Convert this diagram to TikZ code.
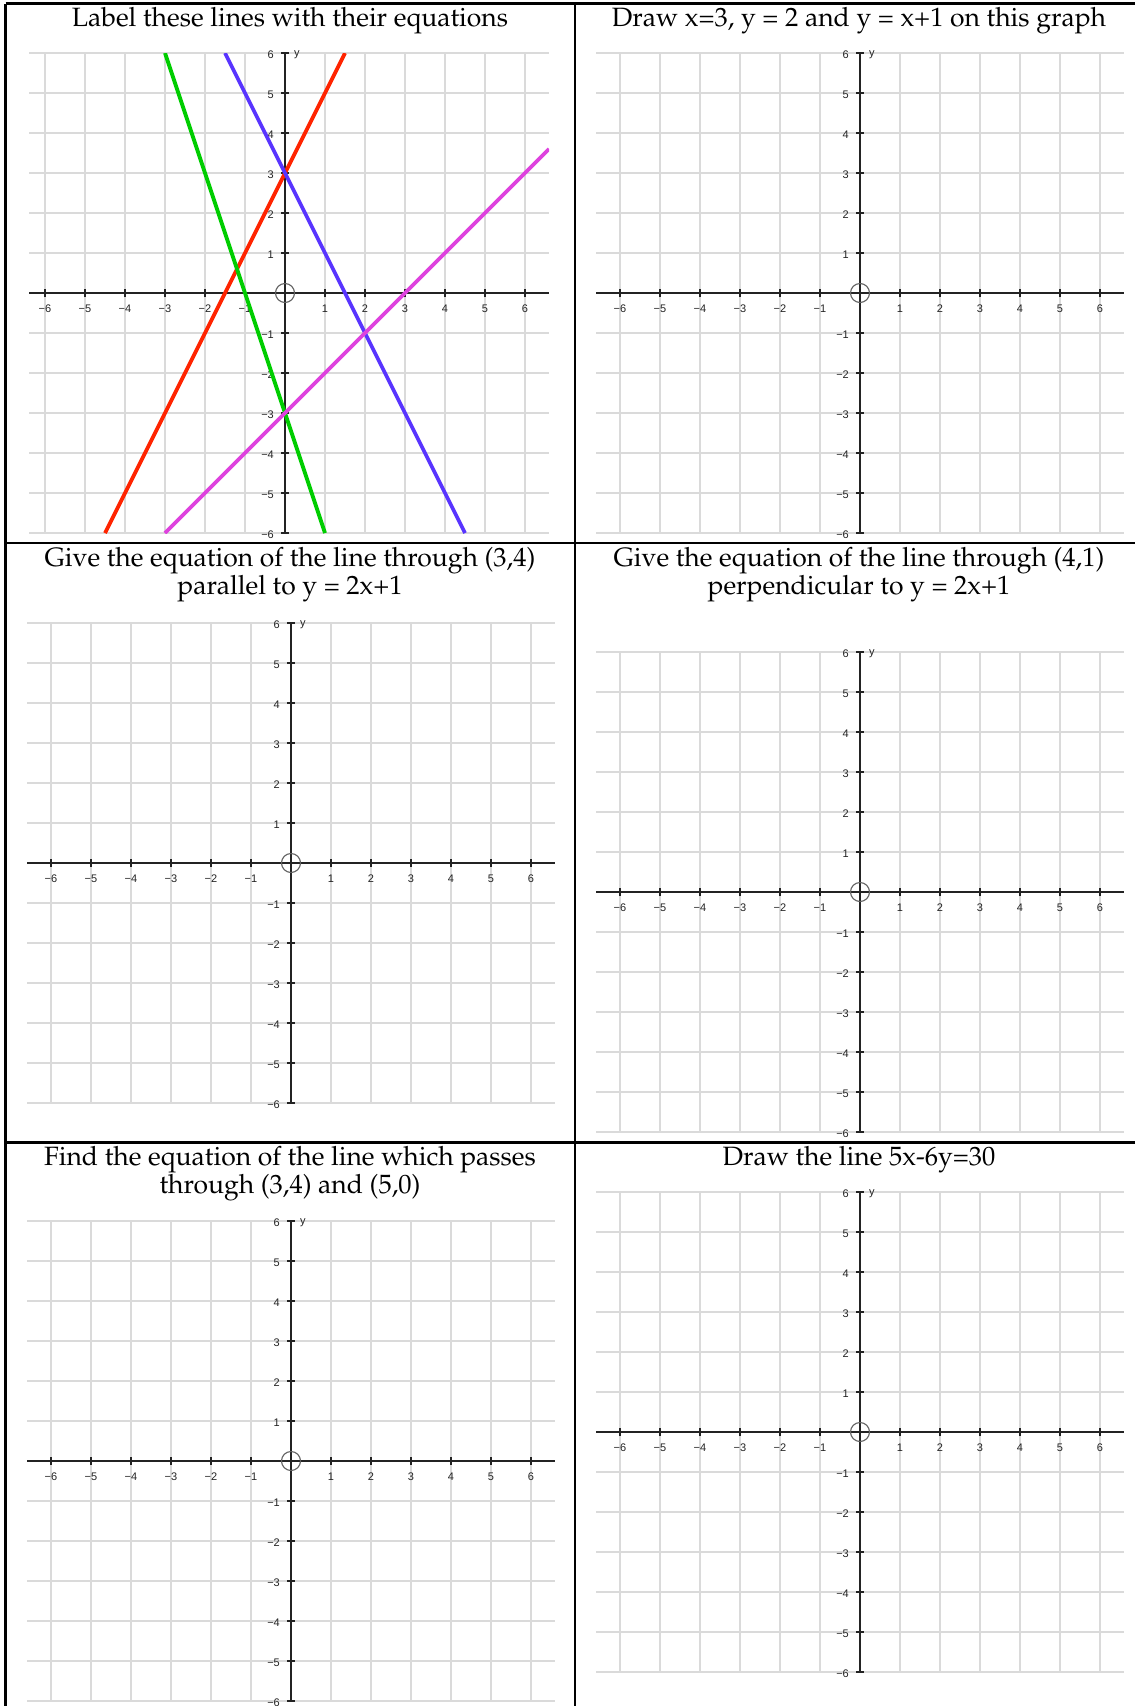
\documentclass[tikz,border=0pt]{standalone}
\usepackage[T1]{fontenc}
\usepackage{fontspec}
\newfontfamily\tickfont{Liberation Sans}
\definecolor{gridgray}{RGB}{218,218,218}
\definecolor{axisblack}{RGB}{35,35,35}
\definecolor{circgray}{RGB}{95,95,95}
\definecolor{linered}{RGB}{255,36,0}
\definecolor{lineblue}{RGB}{88,52,255}
\definecolor{linegreen}{RGB}{0,205,0}
\definecolor{linemagenta}{RGB}{222,66,222}

\newcommand{\titlefont}{\fontencoding{T1}\fontfamily{ppl}\fontsize{26.5}{29}\selectfont}
\newcommand{\ticksize}{\tickfont\fontsize{11}{12}\selectfont}

\tikzset{
  gridline/.style={gridgray, line width=1.3pt},
  axisline/.style={axisblack, line width=1.2pt},
  origincirc/.style={circgray, line width=1.1pt},
  xlab/.style={font=\ticksize, text=axisblack, inner sep=0pt, yshift=-16pt},
  ylab/.style={font=\ticksize, text=axisblack, inner sep=0pt, anchor=east, xshift=-11pt, yshift=-1.5pt},
  celltitle/.style={font=\titlefont, inner sep=0pt, anchor=base},
  tableline/.style={black, line width=2.2pt},
  eqline/.style={line width=3.8pt},
}

% one set of axes on squared paper: #1 name, #2/#3 origin (px), #4 left end of the grid
\newcommand{\coordplane}[4]{%
  \begin{scope}[shift={(#2,#3)}, x=40pt, y=40pt]
    % grid
    \foreach \k in {-6,...,6}{
      \draw[gridline] (#4,\k) -- (6.6,\k);
      \draw[gridline] (\k,-6) -- (\k,6);
    }
    % axes
    \draw[axisline] (#4,0) -- (6.6,0);
    \draw[axisline] (0,-6) -- (0,6);
    \foreach \k in {-6,...,-1,1,2,...,6}{
      \draw[axisline] (\k,0) +(0,-4pt) -- +(0,4pt);
      \draw[axisline] (0,\k) +(-4pt,0) -- +(4pt,0);
    }
    % tick labels
    \foreach \n in {1,...,6}{
      \node[xlab] (#1-xn\n) at (-\n,0) {−\n};
      \node[xlab] (#1-xp\n) at (\n,0) {\n};
      \node[ylab] (#1-yn\n) at (0,-\n) {−\n};
      \node[ylab] (#1-yp\n) at (0,\n) {\n};
    }
    \node[font=\ticksize, text=axisblack, inner sep=0pt,
      anchor=west, xshift=9pt, yshift=-1.5pt] (#1-ylab) at (0,6) {y};
    \draw[origincirc] (0,0) circle (9.5pt);
  \end{scope}%
}

\begin{document}
\begin{tikzpicture}[x=1pt, y=-1pt]
  \useasboundingbox (0,0) rectangle (1135,1706);

  %% ── Squared paper ───────────────────────────────────────────────
  \coordplane{tl}{285}{293}{-6.4}
  \coordplane{tr}{860}{293}{-6.6}
  \coordplane{ml}{291}{863}{-6.6}
  \coordplane{mr}{860}{892}{-6.6}
  \coordplane{bl}{291}{1461}{-6.6}
  \coordplane{br}{860}{1432}{-6.6}

  %% ── The four lines to be labelled ───────────────────────────────
  \begin{scope}[shift={(285,293)}, x=40pt, y=40pt]
    \clip (-6.4,-6) rectangle (6.6,6);
    \draw[eqline, linered] (-4.5,-6) -- (1.5,6);
    \draw[eqline, linegreen] (-3,6) -- (1,-6);
    \draw[eqline, lineblue] (-1.5,6) -- (4.5,-6);
    \draw[eqline, linemagenta] (-3,-6) -- (6.6,3.6);
  \end{scope}

  %% ── Table rules ─────────────────────────────────────────────────
  \draw[tableline] (5.5,3.5) -- (1135,3.5);
  \draw[tableline] (5.5,3.5) -- (5.5,1706);
  \draw[tableline] (575,3.5) -- (575,1706);
  \draw[tableline] (5.5,543) -- (1135,543);
  \draw[tableline] (5.5,1142.5) -- (1135,1142.5);

  %% ── Questions ───────────────────────────────────────────────────
  \node[celltitle] (qA) at (290,26) {Label these lines with their equations};
  \node[celltitle] (qB) at (859,26) {Draw x=3, y = 2 and y = x+1 on this graph};
  \node[celltitle] (qC1) at (290,566) {Give the equation of the line through (3,4)};
  \node[celltitle] (qC2) at (290,594) {parallel to y = 2x+1};
  \node[celltitle] (qD1) at (859,566) {Give the equation of the line through (4,1)};
  \node[celltitle] (qD2) at (859,594) {perpendicular to y = 2x+1};
  \node[celltitle] (qE1) at (290,1165) {Find the equation of the line which passes};
  \node[celltitle] (qE2) at (290,1193) {through (3,4) and (5,0)};
  \node[celltitle] (qF) at (859,1165) {Draw the line 5x-6y=30};

\end{tikzpicture}
\end{document}
